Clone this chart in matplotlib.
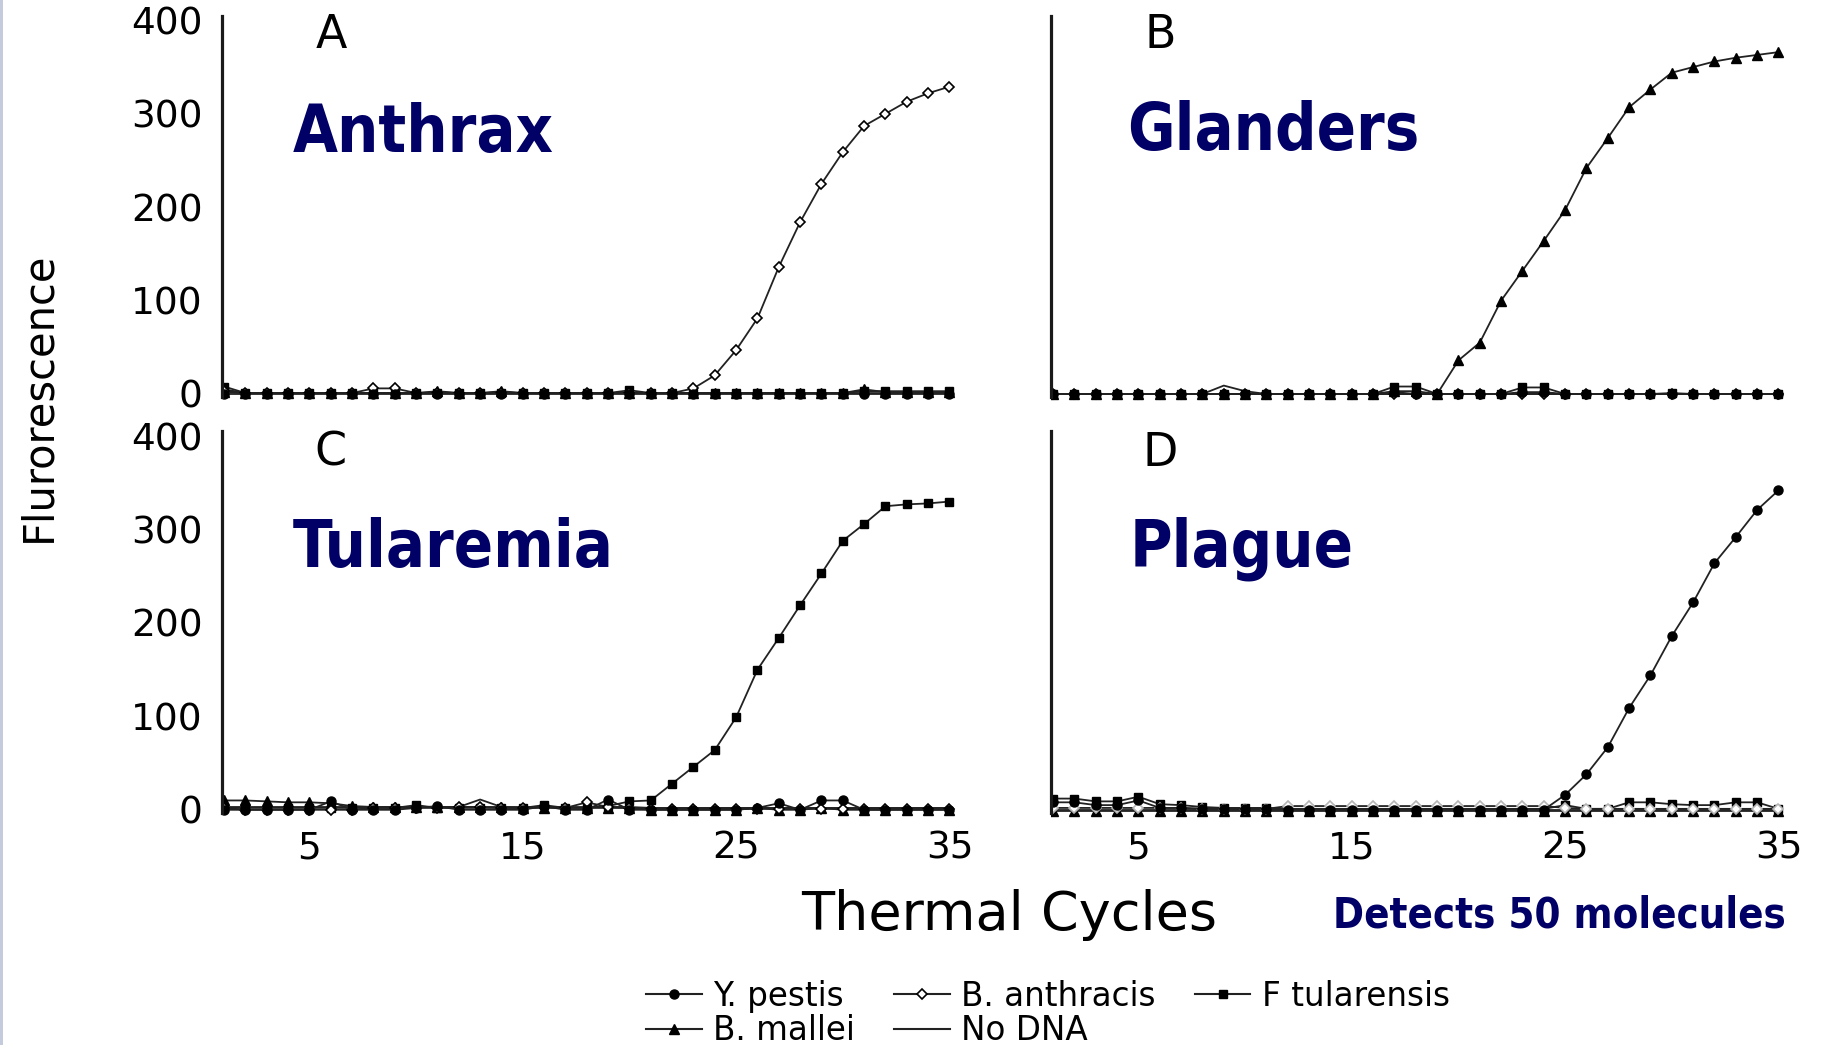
"""Real-time PCR curves (fluorescence vs thermal cycles) for four agents"""

import matplotlib
matplotlib.use('Agg')
import matplotlib.pyplot as plt
from matplotlib.lines import Line2D
from matplotlib.patches import Rectangle

plt.rcParams['font.family'] = ['DejaVu Sans']

#------------------------------------------------------------------------------
#   DATA
#------------------------------------------------------------------------------
cycles = list(range(1, 36))

series_names = ['Y. pestis', 'B. anthracis', 'F tularensis', 'B. mallei', 'No DNA']
panel_letters = ['A', 'B', 'C', 'D']
panel_titles = ['Anthrax', 'Glanders', 'Tularemia', 'Plague']

y_ticks = [0, 100, 200, 300, 400]
x_ticks = [5, 15, 25, 35]

# panel A - anthrax
pestis_A = [0, 0, 0, 0, 0, 0, 0, 0, 0, 0, 0, 0, 0, 0, 0, 0, 0, 0, 0, 0,
            0, 0, 0, 0, 0, 0, 0, 0, 0, 0, 0, 0, 0, 0, 0]
anthracis_A = [3, 1, 1, 1, 1, 1, 1, 6, 6, 1, 1, 1, 1, 1, 1, 1, 1, 1, 1, 1,
               1, 1, 6, 20, 47, 81, 136, 184, 225, 259, 287, 300, 313, 322, 329]
tularensis_A = [8, 1, 1, 1, 1, 1, 1, 1, 1, 1, 1, 1, 1, 1, 1, 1, 1, 1, 1, 4,
                1, 1, 1, 1, 1, 1, 1, 1, 1, 1, 3, 3, 3, 3, 3]
mallei_A = [2, 1, 1, 1, 1, 1, 1, 1, 1, 1, 3, 1, 1, 3, 1, 1, 1, 1, 1, 1,
            1, 1, 1, 1, 1, 1, 1, 1, 1, 1, 5, 2, 2, 2, 2]
nodna_A = [5, 1, 1, 1, 1, 1, 1, 1, 1, 1, 2, 1, 1, 2, 1, 1, 1, 1, 1, 1,
           1, 1, 1, 1, 1, 1, 1, 1, 1, 1, 1, 1, 1, 1, 1]

# panel B - glanders
pestis_B = [0, 0, 0, 0, 0, 0, 0, 0, 0, 0, 0, 0, 0, 0, 0, 0, 2, 0, 0, 0,
            0, 0, 2, 2, 0, 0, 0, 0, 0, 0, 0, 0, 0, 0, 0]
anthracis_B = [0, 0, 0, 0, 0, 0, 0, 0, 0, 0, 0, 0, 0, 0, 0, 0, 0, 0, 0, 0,
               0, 0, 0, 0, 0, 0, 0, 0, 0, 0, 0, 0, 0, 0, 0]
tularensis_B = [0, 0, 0, 0, 0, 0, 0, 0, 0, 0, 0, 0, 0, 0, 0, 0, 8, 8, 0, 0,
                0, 0, 7, 7, 0, 0, 0, 0, 0, 1, 0, 0, 0, 0, 0]
mallei_B = [0, 0, 0, 0, 0, 0, 0, 0, 0, 0, 0, 0, 0, 0, 0, 0, 3, 3, 0, 36,
            55, 100, 132, 164, 197, 242, 274, 307, 326, 344, 350, 356, 360, 363, 366]
nodna_B = [0, 0, 0, 0, 0, 0, 0, 0, 9, 3, 0, 0, 0, 0, 0, 0, 0, 0, 0, 0,
           0, 0, 0, 0, 0, 0, 0, 0, 0, 0, 0, 0, 0, 0, 0]

# panel C - tularemia
pestis_C = [0, 0, 0, 0, 0, 9, 0, 0, 0, 2, 4, 0, 0, 0, 0, 4, 0, 0, 11, 0,
            0, 0, 0, 0, 0, 2, 7, 0, 10, 10, 0, 0, 0, 0, 0]
anthracis_C = [2, 0, 0, 0, 0, 0, 0, 2, 2, 2, 2, 3, 3, 2, 2, 3, 2, 8, 3, 2,
               1, 1, 1, 1, 1, 1, 1, 1, 1, 1, 1, 1, 1, 1, 1]
tularensis_C = [2, 2, 2, 2, 2, 2, 2, 2, 2, 5, 2, 2, 2, 2, 2, 5, 2, 2, 4, 9,
                10, 28, 46, 64, 99, 150, 184, 219, 253, 288, 306, 325, 327, 328, 330]
mallei_C = [10, 10, 9, 8, 8, 7, 4, 3, 3, 3, 3, 3, 3, 3, 2, 2, 2, 2, 2, 2,
            0, 0, 0, 0, 0, 2, 0, 0, 2, 0, 0, 0, 0, 0, 0]
nodna_C = [3, 3, 3, 3, 3, 3, 3, 3, 3, 3, 3, 3, 11, 3, 3, 3, 3, 3, 3, 3,
           2, 2, 2, 2, 2, 2, 2, 2, 2, 2, 2, 2, 2, 2, 2]

# panel D - plague
pestis_D = [8, 8, 5, 5, 10, 2, 2, 1, 1, 1, 1, 0, 0, 0, 0, 0, 0, 0, 0, 0,
            0, 0, 0, 0, 16, 38, 67, 109, 144, 186, 222, 264, 292, 321, 342]
anthracis_D = [2, 2, 2, 2, 2, 2, 2, 1, 1, 1, 1, 4, 4, 4, 4, 4, 4, 4, 4, 4,
               4, 4, 4, 4, 2, 1, 1, 1, 1, 1, 1, 1, 1, 1, 1]
tularensis_D = [12, 12, 9, 9, 14, 6, 5, 3, 2, 2, 2, 1, 1, 1, 1, 1, 1, 1, 1, 1,
                1, 1, 1, 1, 5, 1, 1, 8, 8, 6, 5, 5, 8, 8, 1]
mallei_D = [-1, -1, -1, -1, -1, -1, -1, -1, -1, -1, -1, -1, -1, -1, -1, -1, -1, -1, -1, -1,
            -1, -1, -1, -1, -1, -1, -1, -1, -1, -1, -1, -1, -1, -1, -1]
nodna_D = [0, 0, 0, 0, 0, 0, 0, 0, 0, 0, 0, 0, 0, 0, 0, 0, 0, 0, 0, 0,
           0, 0, 0, 0, 0, 0, 0, 0, 0, 0, 0, 0, 0, 0, 0]

panel_data = [
    [pestis_A, anthracis_A, tularensis_A, mallei_A, nodna_A],
    [pestis_B, anthracis_B, tularensis_B, mallei_B, nodna_B],
    [pestis_C, anthracis_C, tularensis_C, mallei_C, nodna_C],
    [pestis_D, anthracis_D, tularensis_D, mallei_D, nodna_D],
]

#------------------------------------------------------------------------------
#   STYLE
#------------------------------------------------------------------------------
NAVY = '#000066'
LINE = '#222222'
series_style = [
    dict(marker='o', markersize=6.5, markerfacecolor='black', markeredgecolor='black'),
    dict(marker='D', markersize=5.5, markerfacecolor='white', markeredgecolor='black',
         markeredgewidth=1.2),
    dict(marker='s', markersize=6, markerfacecolor='black', markeredgecolor='black'),
    dict(marker='^', markersize=7, markerfacecolor='black', markeredgecolor='black'),
    dict(marker=None),
]
draw_order = [4, 3, 2, 1, 0]

W, H = 1825, 1045
ax_w, ax_h = 736, 389.5
# left / top corner of each panel in pixels
corners = [(222, 15.7), (1051, 15.7), (222, 431.5), (1051, 431.5)]
title_pos = [(0.0965, 0.650), (0.103, 0.655), (0.0965, 0.652), (0.107, 0.654)]

#------------------------------------------------------------------------------
#   FIGURE
#------------------------------------------------------------------------------
fig = plt.figure(figsize=(W / 100, H / 100), dpi=100)
fig.patch.set_facecolor('white')
fig.add_artist(Rectangle((0, 0), 2.5 / W, 1, transform=fig.transFigure,
                         facecolor='#c4cbdc', edgecolor='none'))

for i, (left, top) in enumerate(corners):
    ax = fig.add_axes([left / W, 1 - (top + ax_h) / H, ax_w / W, ax_h / H])
    for j in draw_order:
        style = dict(series_style[j])
        # the plague panel shows the anthracis diamonds faded
        if i == 3 and j == 1:
            style['markeredgecolor'] = '#b5b5b5'
        ax.plot(cycles, panel_data[i][j], color=LINE, linewidth=1.3, **style)

    ax.set_xlim(0.9, 35.4)
    ax.set_ylim(-12, 405)
    for side in ['top', 'right', 'bottom']:
        ax.spines[side].set_visible(False)
    ax.spines['left'].set_linewidth(2.3)
    ax.spines['left'].set_color('#1a1a1a')
    ax.spines['left'].set_bounds(-3, 405)
    ax.set_facecolor('none')

    ax.set_yticks(y_ticks)
    ax.set_xticks(x_ticks)
    ax.tick_params(length=0, labelsize=27)
    ax.tick_params(axis='y', pad=14)
    ax.tick_params(axis='x', pad=7)
    if i % 2 == 1:
        ax.set_yticklabels([])
    if i < 2:
        ax.set_xticklabels([])

    ax.text(0.148, 0.949 if i < 2 else 0.944, panel_letters[i],
            transform=ax.transAxes, ha='center', va='center', fontsize=33)
    tx, ty = title_pos[i]
    ax.text(tx, ty, panel_titles[i], transform=ax.transAxes, ha='left',
            va='baseline', color=NAVY, fontsize=46.5, fontweight='bold',
            fontstretch='condensed')

fig.text(38 / W, 1 - 397 / H, 'Flurorescence', rotation=90, ha='center',
         va='center', fontsize=30)
fig.text(1009 / W, 1 - 930 / H, 'Thermal Cycles', ha='center', va='baseline',
         fontsize=39)
fig.text(1333 / W, 1 - 928 / H, 'Detects 50 molecules', ha='left',
         va='baseline', color=NAVY, fontsize=30, fontweight='bold',
         fontstretch='condensed')

# legend: ncol fills column-wise, so reorder to match the row layout
leg_order = [0, 3, 1, 4, 2]
handles = [Line2D([], [], color=LINE, linewidth=1.5, **series_style[j])
           for j in leg_order]
labels = [series_names[j] for j in leg_order]
fig.legend(handles, labels, ncol=3, loc='center',
           bbox_to_anchor=(1048 / W, 1 - 1013.5 / H), frameon=False,
           fontsize=23.5, handlelength=1.7, handletextpad=0.35,
           columnspacing=1.2, labelspacing=0.05, borderpad=0)

fig.savefig('out.png', dpi=100, facecolor='white')
plt.close(fig)
